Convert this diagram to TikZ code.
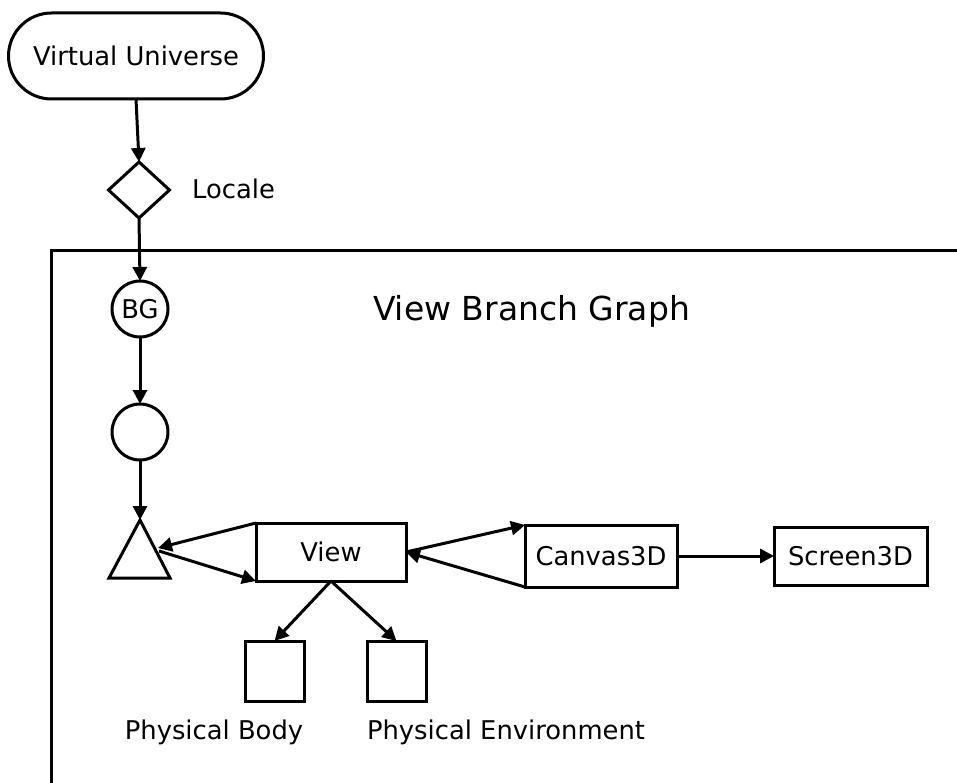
\documentclass[tikz,border=0pt]{standalone}
\usepackage{fontspec}
\setmainfont{DejaVu Sans}
\usetikzlibrary{shapes.geometric,shapes.misc,arrows.meta}
\begin{document}
\begin{tikzpicture}[x=1pt,y=-1pt,
  every node/.style={font=\fontsize{25.8}{30}\selectfont},
  ln/.style={line width=3pt},
  arr/.style={line width=3pt,-{Triangle[length=14pt,width=14pt]}},
  box/.style={draw,line width=3pt,inner sep=0pt,outer sep=0pt,rectangle},
  circ/.style={draw,line width=3pt,circle,inner sep=0pt,outer sep=0pt,minimum size=56pt},
  lbl/.style={anchor=base,inner sep=0pt}]
\useasboundingbox (0,0) rectangle (957,783);
% frame
\coordinate (fbl) at (51.5,790);
\coordinate (ftl) at (51.5,251);
\coordinate (ftr) at (965,251);
\draw[ln] (fbl) -- (ftl) -- (ftr);
% nodes
\node[draw,line width=3pt,rounded rectangle,minimum width=255pt,minimum height=86pt,inner sep=0pt,outer sep=0pt] (vu) at (136,56) {Virtual Universe};
\node[draw,line width=3pt,diamond,minimum width=61pt,minimum height=56pt,inner sep=0pt,outer sep=0pt] (dia) at (139,190) {};
\node[anchor=base west,inner sep=0pt] (loc) at (192,199) {Locale};
\node[circ] (bg) at (140,309) {BG};
\node[circ] (c2) at (140,432) {};
\node[lbl,font=\fontsize{33}{38}\selectfont] (title) at (531.5,320) {View Branch Graph};
% triangle
\coordinate (tapex) at (140,520);
\coordinate (tbl) at (109,578);
\coordinate (tbr) at (170,578);
\draw[ln,line join=miter] (tbl) -- (tapex) -- (tbr) -- cycle;
\coordinate (ta) at (158,548);
\coordinate (tb) at (159,551);
\node[box,minimum width=150pt,minimum height=58pt] (view) at (331,552) {View};
\node[box,minimum width=152pt,minimum height=62pt] (canvas) at (601,556) {Canvas3D};
\node[box,minimum width=153pt,minimum height=58pt] (screen) at (850.5,556) {Screen3D};
\node[box,minimum width=59pt,minimum height=60pt] (pb) at (274.5,671) {};
\node[box,minimum width=59pt,minimum height=60pt] (pe) at (396.5,671) {};
\node[lbl] (pbt) at (214,739) {Physical Body};
\node[lbl] (pet) at (506,739) {Physical Environment};
% connectors
\draw[arr] (vu.south) -- (dia.north);
\draw[arr] (dia.south) -- (bg.north);
\draw[arr] (bg.south) -- (c2.north);
\draw[arr] (c2.south) -- (tapex);
\draw[arr] (view.north west) -- (ta);
\draw[arr] (tb) -- (view.south west);
\draw[arr] (view.east) -- (canvas.north west);
\draw[arr] (canvas.south west) -- (view.east);
\draw[arr] (canvas.east) -- (screen.west);
\draw[arr] (view.south) -- (pb.north);
\draw[arr] (view.south) -- (pe.north);
\end{tikzpicture}
\end{document}
